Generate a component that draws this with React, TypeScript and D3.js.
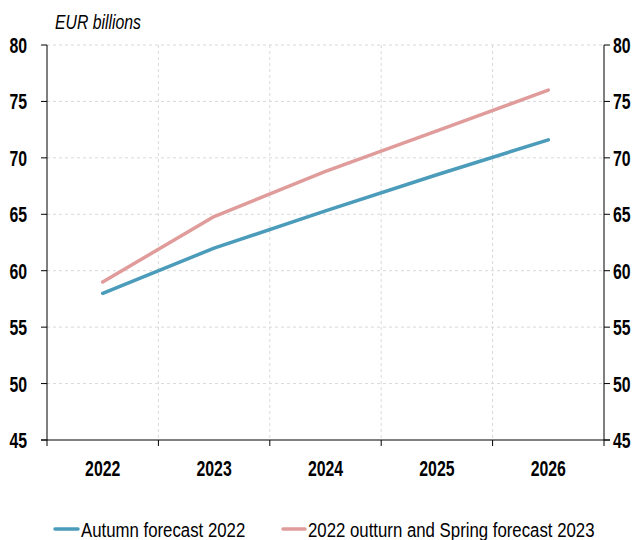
import React from "react";
import * as d3 from "d3";

const categories = ["2022", "2023", "2024", "2025", "2026"];
const autumn2022 = [58.0, 62.0, 65.3, 68.5, 71.6];
const spring2023 = [59.0, 64.8, 68.8, 72.4, 76.0];
const yTicks = [45, 50, 55, 60, 65, 70, 75, 80];
const seriesNames = ["Autumn forecast 2022", "2022 outturn and Spring forecast 2023"];
const colors = ["#4B9BBA", "#E09C9B"];

const W = 644, H = 540;
const left = 47, right = 604, top = 45, bottom = 440;
const FONT = "'Liberation Sans', Arial, sans-serif";

type TProps = {
  x: number; y: number; sx: number; size: number; anchor?: string;
  weight?: string; italic?: boolean; children: React.ReactNode;
};
function T({ x, y, sx, size, anchor = "start", weight = "normal", italic = false, children }: TProps) {
  return (
    <text
      transform={`translate(${x},${y}) scale(${sx},1)`}
      textAnchor={anchor}
      fontSize={size}
      fontWeight={weight}
      fontStyle={italic ? "italic" : "normal"}
      fill="#000"
    >
      {children}
    </text>
  );
}

export default function App() {
  const x = d3.scaleBand<string>().domain(categories).range([left, right]);
  const y = d3.scaleLinear().domain([45, 80]).range([bottom, top]);
  const line = d3
    .line<number>()
    .x((_, i) => (x(categories[i]) as number) + x.bandwidth() / 2)
    .y((d) => y(d));
  const boundaries = categories.map((c) => x(c) as number).concat([right]);
  const series = [autumn2022, spring2023];

  return (
    <svg width={W} height={H} style={{ position: "absolute", left: 0, top: 0 }} fontFamily={FONT}>
      <rect width={W} height={H} fill="#fff" />
      {/* grid */}
      {yTicks.filter((t) => t > 45).map((t) => (
        <line key={"gy" + t} x1={left} x2={right} y1={y(t)} y2={y(t)} stroke="#d9d9d9" strokeDasharray="3,3" />
      ))}
      {boundaries.slice(1, -1).map((b, i) => (
        <line key={"gx" + i} x1={b} x2={b} y1={top} y2={bottom} stroke="#d9d9d9" strokeDasharray="3,3" />
      ))}
      {/* axes */}
      <line x1={left} x2={left} y1={top} y2={bottom} stroke="#000" />
      <line x1={right} x2={right} y1={top} y2={bottom} stroke="#000" />
      <line x1={left - 6} x2={right + 6} y1={bottom} y2={bottom} stroke="#000" />
      {yTicks.map((t) => (
        <g key={"yt" + t}>
          <line x1={left - 6} x2={left} y1={y(t)} y2={y(t)} stroke="#000" />
          <line x1={right} x2={right + 6} y1={y(t)} y2={y(t)} stroke="#000" />
          <T x={left - 20} y={y(t) + 8} sx={0.72} size={22} anchor="end" weight="bold">{t}</T>
          <T x={right + 9} y={y(t) + 8} sx={0.72} size={22} anchor="start" weight="bold">{t}</T>
        </g>
      ))}
      {boundaries.map((b, i) => (
        <line key={"xt" + i} x1={b} x2={b} y1={bottom} y2={bottom + 6} stroke="#000" />
      ))}
      {categories.map((c) => (
        <T key={"xl" + c} x={(x(c) as number) + x.bandwidth() / 2} y={476} sx={0.72} size={22} anchor="middle" weight="bold">{c}</T>
      ))}
      <T x={55} y={29} sx={0.79} size={20} italic>EUR billions</T>
      {/* lines */}
      {series.map((s, i) => (
        <path key={"s" + i} d={line(s) || ""} fill="none" stroke={colors[i]} strokeWidth={3.5} strokeLinecap="round" strokeLinejoin="round" />
      ))}
      {/* legend */}
      <line x1={55} x2={78} y1={529} y2={529} stroke={colors[0]} strokeWidth={3.5} strokeLinecap="round" />
      <T x={81} y={537} sx={0.8} size={21}>{seriesNames[0]}</T>
      <line x1={283} x2={305} y1={529} y2={529} stroke={colors[1]} strokeWidth={3.5} strokeLinecap="round" />
      <T x={308} y={537} sx={0.8} size={21}>{seriesNames[1]}</T>
    </svg>
  );
}
